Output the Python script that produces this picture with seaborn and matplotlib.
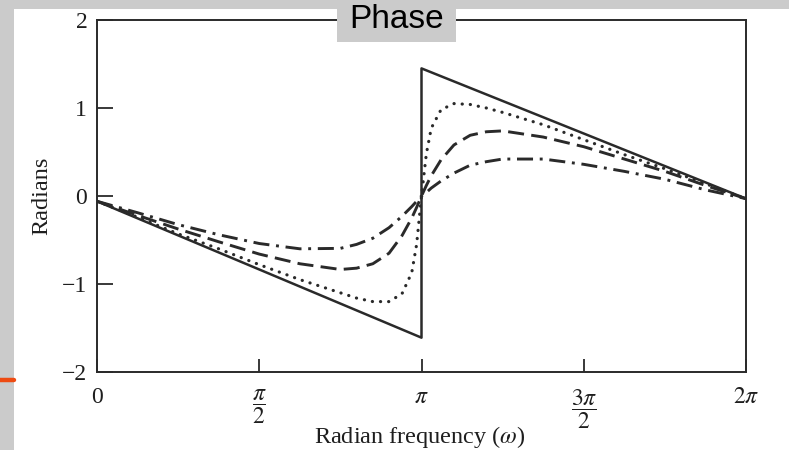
import numpy as np
import pandas as pd
import matplotlib
matplotlib.use("Agg")
import matplotlib.pyplot as plt
from matplotlib.patches import Rectangle
import seaborn as sns

# ---------------- data (frequency in units of pi, phase in radians) ----------------
solid_w = [0.0, 1.0, 1.0, 2.0]
solid_phase = [-0.06, -1.61, 1.45, -0.03]

curve_w = [0.0, 0.125, 0.25, 0.375, 0.5, 0.625, 0.75, 0.8, 0.85, 0.9, 0.94, 0.97, 0.985, 1.0,
           1.015, 1.03, 1.06, 1.1, 1.15, 1.2, 1.25, 1.375, 1.5, 1.625, 1.75, 1.875, 2.0]
dotted_phase = [-0.06, -0.24, -0.43, -0.60, -0.78, -0.95, -1.10, -1.16, -1.20, -1.20, -1.11, -0.87, -0.55, 0.0,
                0.48, 0.77, 0.98, 1.05, 1.04, 1.00, 0.95, 0.81, 0.64, 0.47, 0.31, 0.14, -0.03]
dashed_phase = [-0.06, -0.22, -0.375, -0.52, -0.66, -0.77, -0.835, -0.82, -0.77, -0.65, -0.45, -0.25, -0.13, 0.0,
                0.12, 0.23, 0.41, 0.58, 0.69, 0.73, 0.74, 0.67, 0.56, 0.42, 0.28, 0.12, -0.03]
dashdot_phase = [-0.06, -0.19, -0.325, -0.44, -0.54, -0.60, -0.595, -0.55, -0.48, -0.36, -0.23, -0.12, -0.06, 0.0,
                 0.04, 0.09, 0.17, 0.26, 0.35, 0.39, 0.42, 0.42, 0.36, 0.28, 0.19, 0.07, -0.03]

xtick_pos = [0.0, 0.5, 1.0, 1.5, 2.0]
xtick_labels = ["0", r"$\dfrac{\pi}{2}$", r"$\pi$", r"$\dfrac{3\pi}{2}$", r"$2\pi$"]
ytick_pos = [-2, -1, 0, 1, 2]
ytick_labels = ["\u22122", "\u22121", "0", "1", "2"]

# ---------------- style ----------------
sns.set_theme(style="ticks")
plt.rcParams["font.family"] = ["Liberation Serif", "DejaVu Serif"]
plt.rcParams["mathtext.fontset"] = "stix"

BG = "#cbcbcb"
INK = "#2a2a2a"
TXT = "#1e1e1e"

fig = plt.figure(figsize=(7.89, 4.5), dpi=100, facecolor=BG)
# white page panel
fig.patches.append(Rectangle((14 / 789, 0), 1 - 14 / 789, 1 - 9 / 450, transform=fig.transFigure,
                             facecolor="white", edgecolor="none", zorder=-5))
# orange accent line at left
fig.add_artist(plt.Line2D([0, 14 / 789], [1 - 380 / 450, 1 - 380 / 450], transform=fig.transFigure,
                          color="#ee4b12", lw=3.2, zorder=1))

ax = fig.add_axes([97 / 789, 1 - 372 / 450, (746 - 97) / 789, (372 - 20) / 450])
ax.set_facecolor("white")

df_solid = pd.DataFrame({"w": np.array(solid_w) * np.pi, "phase": solid_phase})
df_dot = pd.DataFrame({"w": np.array(curve_w) * np.pi, "phase": dotted_phase})
df_dash = pd.DataFrame({"w": np.array(curve_w) * np.pi, "phase": dashed_phase})
df_dd = pd.DataFrame({"w": np.array(curve_w) * np.pi, "phase": dashdot_phase})

sns.lineplot(data=df_solid, x="w", y="phase", ax=ax, estimator=None, sort=False,
             color=INK, lw=1.8, linestyle="-")
sns.lineplot(data=df_dot, x="w", y="phase", ax=ax, estimator=None, sort=False,
             color=INK, lw=2.3, linestyle=(0, (0.05, 2.5)), dash_capstyle="round")
sns.lineplot(data=df_dash, x="w", y="phase", ax=ax, estimator=None, sort=False,
             color=INK, lw=2.1, linestyle=(0, (5.5, 2.5)))
sns.lineplot(data=df_dd, x="w", y="phase", ax=ax, estimator=None, sort=False,
             color=INK, lw=2.1, linestyle=(0, (5.5, 2.3, 1.0, 2.3)))

ax.set_xlim(0, 2 * np.pi)
ax.set_ylim(-2, 2)
ax.set_xticks(np.array(xtick_pos) * np.pi)
ax.set_xticklabels(xtick_labels, fontsize=17)
ax.set_yticks(ytick_pos)
ax.set_yticklabels(ytick_labels, fontsize=17)
ax.tick_params(axis="y", direction="in", length=11.5, width=1.3, color=INK, pad=7, labelcolor=TXT)
ax.tick_params(axis="x", direction="in", length=9.5, width=1.3, color=INK, pad=11, labelcolor=TXT)
for sp in ax.spines.values():
    sp.set_visible(True)
    sp.set_color(INK)
    sp.set_linewidth(1.4)

ax.set_xlabel("Radian frequency ($\\omega$)", fontsize=17.5, color=TXT, va="center")
ax.xaxis.set_label_coords(0.498, -0.186)
ax.set_ylabel("Radians", fontsize=17.5, color=TXT, va="center")
ax.yaxis.set_label_coords((42 - 97) / 649, 0.5)

# title box "Phase"
fig.patches.append(Rectangle((337 / 789, 1 - 42 / 450), 119 / 789, 42 / 450, transform=fig.transFigure,
                             facecolor=BG, edgecolor="none", zorder=5))
fig.text(396.5 / 789, 1 - 28.5 / 450, "Phase", ha="center", va="baseline", fontsize=24,
         family=["Liberation Sans", "DejaVu Sans"], color="black", zorder=6)

fig.savefig("out.png", dpi=100, facecolor=BG)
